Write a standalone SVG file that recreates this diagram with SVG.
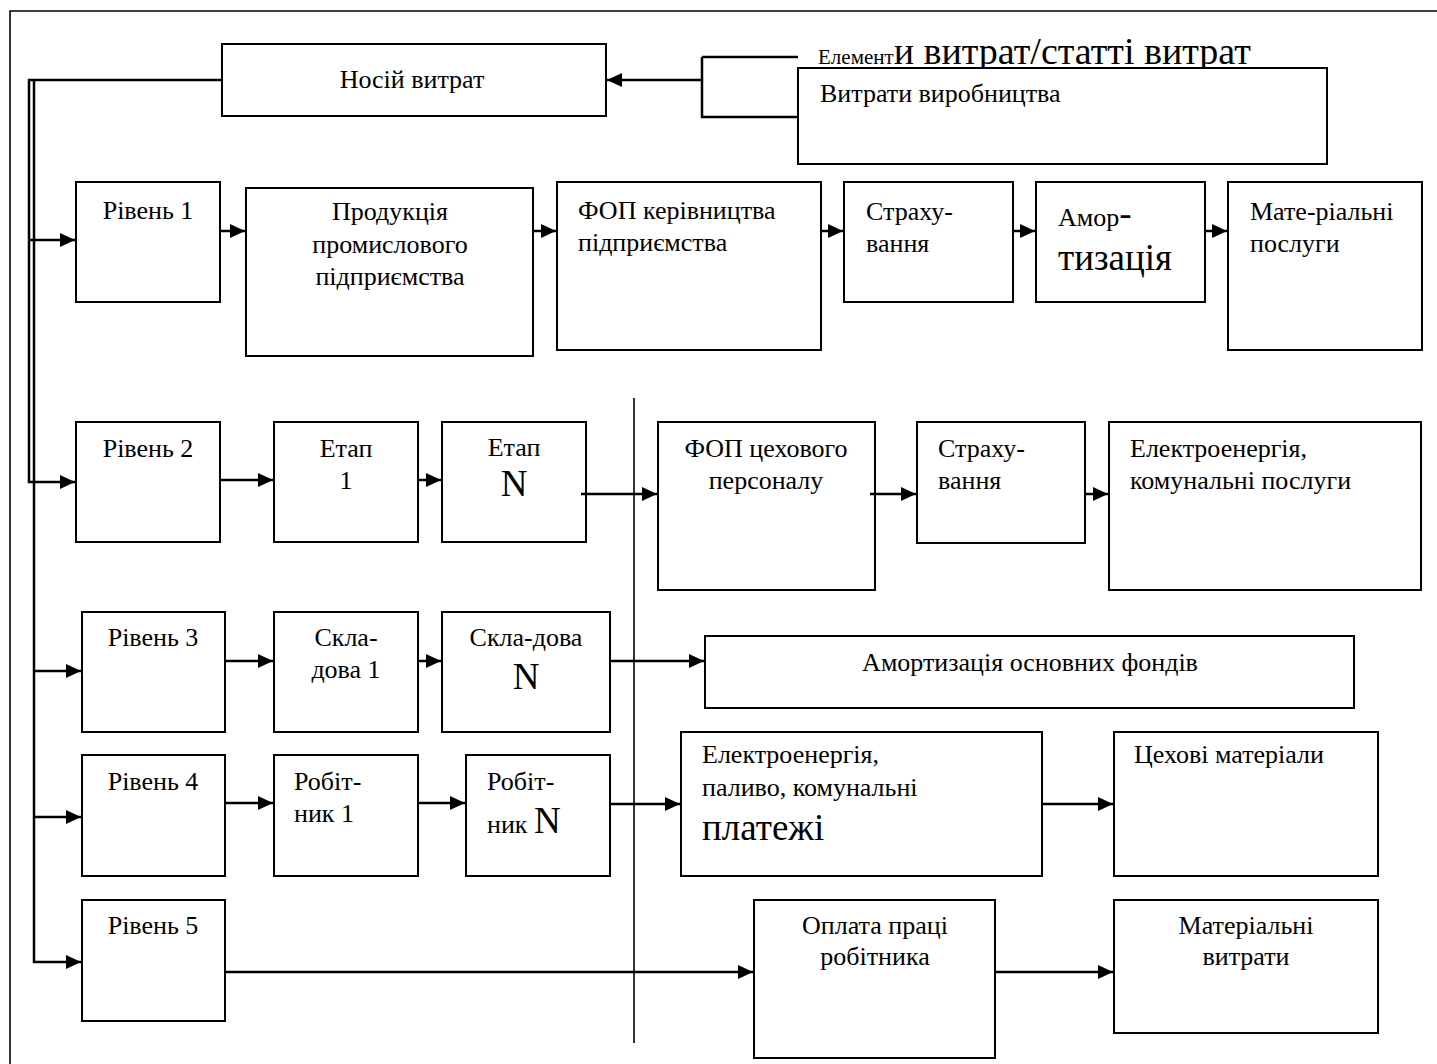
<svg xmlns="http://www.w3.org/2000/svg" width="1437" height="1064" viewBox="0 0 1437 1064">
<style>
.b{fill:#fff;stroke:#000;stroke-width:2}
.t{font-family:"Liberation Serif","Times New Roman",serif;font-size:26px;fill:#000}
.c{text-anchor:middle}
.L{font-size:37px}
.s{font-size:21px}
.ln{fill:none;stroke:#000;stroke-width:2.5}
.thin{fill:none;stroke:#000;stroke-width:1.6}
</style>
<defs>
<marker id="ah" markerUnits="userSpaceOnUse" markerWidth="16" markerHeight="14" refX="15" refY="7" orient="auto">
<path d="M0,0 L15,7 L0,14 z" fill="#000"/>
</marker>
</defs>
<rect width="1437" height="1064" fill="#fff"/>
<path class="thin" d="M10,1064 V11 H1437"/>
<path class="thin" d="M634,398 V1043"/>

<g id="nosii"><rect class="b" x="222" y="44" width="384" height="72"/><text class="t c" x="412" y="88">Носій витрат</text></g>
<g id="elementy"><text class="t" x="818" y="64"><tspan class="s">Елемент</tspan><tspan style="font-size:38px">и витрат/статті витрат</tspan></text></g>
<g id="vytraty"><rect class="b" x="798" y="68" width="529" height="96"/><text class="t" x="820" y="102">Витрати виробництва</text></g>

<g id="riven1"><rect class="b" x="76" y="182" width="144" height="120"/><text class="t c" x="148" y="219">Рівень 1</text></g>
<g id="produkcia"><rect class="b" x="246" y="188" width="287" height="168"/><text class="t c" x="390" y="220">Продукція</text><text class="t c" x="390" y="253">промислового</text><text class="t c" x="390" y="285">підприємства</text></g>
<g id="fop1"><rect class="b" x="557" y="182" width="264" height="168"/><text class="t" x="578" y="219">ФОП керівництва</text><text class="t" x="578" y="251">підприємства</text></g>
<g id="strakh1"><rect class="b" x="844" y="182" width="169" height="120"/><text class="t" x="866" y="220">Страху-</text><text class="t" x="866" y="252">вання</text></g>
<g id="amort1"><rect class="b" x="1036" y="182" width="169" height="120"/><text class="t" x="1058" y="226">Амор<tspan class="L">-</tspan></text><text class="t L" x="1058" y="270">тизація</text></g>
<g id="material1"><rect class="b" x="1228" y="182" width="194" height="168"/><text class="t" x="1250" y="220">Мате-ріальні</text><text class="t" x="1250" y="252">послуги</text></g>

<g id="riven2"><rect class="b" x="76" y="422" width="144" height="120"/><text class="t c" x="148" y="457">Рівень 2</text></g>
<g id="etap1"><rect class="b" x="274" y="422" width="144" height="120"/><text class="t c" x="346" y="457">Етап</text><text class="t c" x="346" y="489">1</text></g>
<g id="etapN"><rect class="b" x="442" y="422" width="144" height="120"/><text class="t c" x="514" y="456">Етап</text><text class="t c L" x="514" y="496">N</text></g>
<g id="fop2"><rect class="b" x="658" y="422" width="217" height="168"/><text class="t c" x="766" y="457">ФОП цехового</text><text class="t c" x="766" y="489">персоналу</text></g>
<g id="strakh2"><rect class="b" x="917" y="422" width="168" height="121"/><text class="t" x="938" y="457">Страху-</text><text class="t" x="938" y="489">вання</text></g>
<g id="elektro2"><rect class="b" x="1109" y="422" width="312" height="168"/><text class="t" x="1130" y="457">Електроенергія,</text><text class="t" x="1130" y="489">комунальні послуги</text></g>

<g id="riven3"><rect class="b" x="82" y="612" width="143" height="120"/><text class="t c" x="153" y="646">Рівень 3</text></g>
<g id="sklad1"><rect class="b" x="274" y="612" width="144" height="120"/><text class="t c" x="346" y="646">Скла-</text><text class="t c" x="346" y="678">дова 1</text></g>
<g id="skladN"><rect class="b" x="442" y="612" width="168" height="120"/><text class="t c" x="526" y="646">Скла-дова</text><text class="t c L" x="526" y="689">N</text></g>
<g id="amort3"><rect class="b" x="705" y="636" width="649" height="72"/><text class="t c" x="1030" y="671">Амортизація основних фондів</text></g>

<g id="riven4"><rect class="b" x="82" y="755" width="143" height="121"/><text class="t c" x="153" y="790">Рівень 4</text></g>
<g id="robit1"><rect class="b" x="274" y="755" width="144" height="121"/><text class="t" x="294" y="790">Робіт-</text><text class="t" x="294" y="822">ник 1</text></g>
<g id="robitN"><rect class="b" x="466" y="755" width="144" height="121"/><text class="t" x="487" y="790">Робіт-</text><text class="t" x="487" y="833">ник <tspan class="L">N</tspan></text></g>
<g id="elektro4"><rect class="b" x="681" y="732" width="361" height="144"/><text class="t" x="702" y="763">Електроенергія,</text><text class="t" x="702" y="796">паливо, комунальні</text><text class="t L" x="702" y="840">платежі</text></g>
<g id="tsekhovi"><rect class="b" x="1114" y="732" width="264" height="144"/><text class="t" x="1134" y="763">Цехові матеріали</text></g>

<g id="riven5"><rect class="b" x="82" y="900" width="143" height="121"/><text class="t c" x="153" y="934">Рівень 5</text></g>
<g id="oplata"><rect class="b" x="754" y="900" width="241" height="158"/><text class="t c" x="875" y="934">Оплата праці</text><text class="t c" x="875" y="965">робітника</text></g>
<g id="materialni5"><rect class="b" x="1114" y="900" width="264" height="133"/><text class="t c" x="1246" y="934">Матеріальні</text><text class="t c" x="1246" y="965">витрати</text></g>

<g id="connectors">
<path class="ln" d="M702,57 H798 M702,57 V117 H798"/>
<path class="ln" d="M702,80 H607" marker-end="url(#ah)"/>
<path class="ln" d="M222,80 H29 V482 H75" marker-end="url(#ah)"/>
<path class="ln" d="M34,80 V962 H81" marker-end="url(#ah)"/>
<path class="ln" d="M29,240 H75" marker-end="url(#ah)"/>
<path class="ln" d="M34,671 H81" marker-end="url(#ah)"/>
<path class="ln" d="M34,817 H81" marker-end="url(#ah)"/>
<path class="ln" d="M220,231 H245" marker-end="url(#ah)"/>
<path class="ln" d="M533,231 H556" marker-end="url(#ah)"/>
<path class="ln" d="M821,231 H843" marker-end="url(#ah)"/>
<path class="ln" d="M1013,231 H1035" marker-end="url(#ah)"/>
<path class="ln" d="M1205,231 H1227" marker-end="url(#ah)"/>
<path class="ln" d="M220,480 H273" marker-end="url(#ah)"/>
<path class="ln" d="M418,480 H441" marker-end="url(#ah)"/>
<path class="ln" d="M581,494 H657" marker-end="url(#ah)"/>
<path class="ln" d="M870,494 H916" marker-end="url(#ah)"/>
<path class="ln" d="M1085,494 H1108" marker-end="url(#ah)"/>
<path class="ln" d="M225,661 H273" marker-end="url(#ah)"/>
<path class="ln" d="M418,661 H441" marker-end="url(#ah)"/>
<path class="ln" d="M610,661 H704" marker-end="url(#ah)"/>
<path class="ln" d="M225,803 H273" marker-end="url(#ah)"/>
<path class="ln" d="M418,803 H465" marker-end="url(#ah)"/>
<path class="ln" d="M610,804 H680" marker-end="url(#ah)"/>
<path class="ln" d="M1042,804 H1113" marker-end="url(#ah)"/>
<path class="ln" d="M225,972 H753" marker-end="url(#ah)"/>
<path class="ln" d="M995,972 H1113" marker-end="url(#ah)"/>
</g>
</svg>
